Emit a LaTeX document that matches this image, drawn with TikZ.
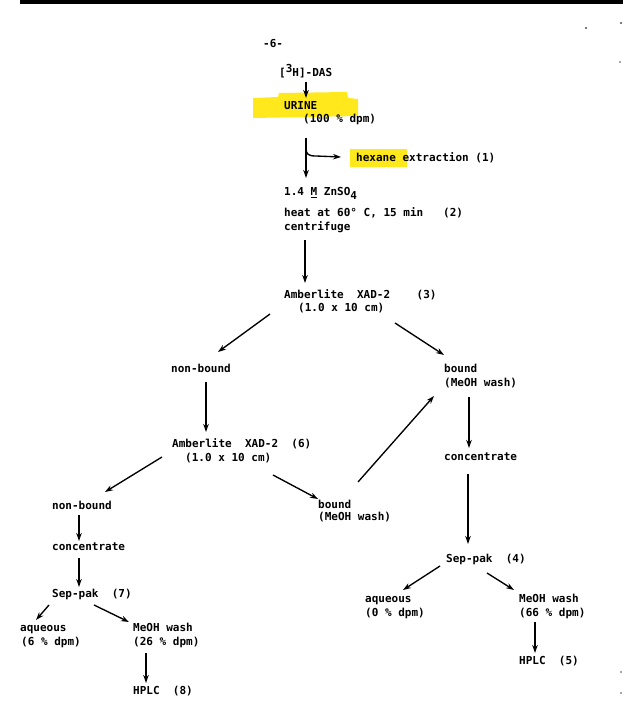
\documentclass[tikz,border=0pt]{standalone}
\usepackage{fontspec}
\setmonofont{DejaVu Sans Mono}
\usetikzlibrary{arrows.meta,calc}
\definecolor{hl}{RGB}{255,232,28}
\begin{document}
\begin{tikzpicture}[x=1pt,y=-1pt,
  txt/.style={anchor=base west,inner sep=0pt,font=\ttfamily\bfseries\fontsize{11}{14}\selectfont},
  arr/.style={line width=1.35pt,-{Stealth[length=8pt,width=5.5pt]}},
  speck/.style={fill=black!70}]
\useasboundingbox (0,0) rectangle (623,714);
% scan edge and specks
\fill[black] (20,0) rectangle (623,4);
\fill[speck] (586,28) circle (1.1);
\fill[speck] (621,23) circle (1.1);
\fill[speck] (620,62) circle (0.9);
\fill[speck] (621,672) circle (0.9);
\fill[speck] (621,693) circle (0.8);
% highlights
\fill[hl] (253,98) -- (278,97) -- (279,93) -- (347,92) -- (348,98) -- (358,99) -- (358,116) -- (253,118) -- cycle;
\fill[hl] (350,149) rectangle (407,167);
% text nodes
\node[txt] (page) at (263,48) {-6-};
\node[txt] (das) at (279,77) {[\raisebox{4pt}{3}H]-DAS};
\node[txt] (urine) at (284,110) {URINE};
\node[txt] (pct100) at (303,123) {(100 \% dpm)};
\node[txt] (hex) at (356,162) {hexane extraction (1)};
\node[txt] (zn) at (284,196) {1.4 \underline{M} ZnSO\raisebox{-4pt}{4}};
\node[txt] (heat) at (284,216) {heat at 60° C, 15 min\ \ \ (2)};
\node[txt] (cent) at (284,230) {centrifuge};
\node[txt] (amb3) at (284,298) {Amberlite\ \ XAD-2\ \ \ \ (3)};
\node[txt] (amb3b) at (298,311) {(1.0 x 10 cm)};
\node[txt] (nb1) at (171,372) {non-bound};
\node[txt] (b1) at (444,372) {bound};
\node[txt] (b1b) at (444,386) {(MeOH wash)};
\node[txt] (amb6) at (172,447) {Amberlite\ \ XAD-2\ \ (6)};
\node[txt] (amb6b) at (185,461) {(1.0 x 10 cm)};
\node[txt] (conc1) at (444,460) {concentrate};
\node[txt] (b2) at (318,508) {bound};
\node[txt] (b2b) at (318,520) {(MeOH wash)};
\node[txt] (nb2) at (52,509) {non-bound};
\node[txt] (conc2) at (52,550) {concentrate};
\node[txt] (sp7) at (52,597) {Sep-pak\ \ (7)};
\node[txt] (aq7) at (20,631) {aqueous};
\node[txt] (aq7b) at (21,645) {(6 \% dpm)};
\node[txt] (mw7) at (133,631) {MeOH wash};
\node[txt] (mw7b) at (133,645) {(26 \% dpm)};
\node[txt] (hplc8) at (133,694) {HPLC\ \ (8)};
\node[txt] (sp4) at (446,562) {Sep-pak\ \ (4)};
\node[txt] (aq4) at (365,602) {aqueous};
\node[txt] (aq4b) at (365,616) {(0 \% dpm)};
\node[txt] (mw4) at (519,602) {MeOH wash};
\node[txt] (mw4b) at (519,616) {(66 \% dpm)};
\node[txt] (hplc5) at (519,664) {HPLC\ \ (5)};
% connectors
\draw[arr] ($(das.base west)+(27,5)$) -- ($(urine.base west)+(22,-12)$);
\draw[arr] ($(pct100.base west)+(3,15)$) -- ($(zn.base west)+(22,-18)$);
\coordinate (br) at ($(pct100.base west)+(3,25)$);
\draw[arr] (br) .. controls ($(br)+(0,6)$) and ($(br)+(2,8)$) .. ($(br)+(10,8)$) -- ($(hex.base west)+(-15,-5)$);
\draw[arr] ($(cent.base west)+(21,10)$) -- ($(amb3.base west)+(21,-15)$);
\draw[arr] ($(amb3b.base west)+(-28,3)$) -- ($(nb1.base west)+(47,-20)$);
\draw[arr] ($(amb3b.base west)+(97,12)$) -- ($(b1.base west)+(0,-17)$);
\draw[arr] ($(nb1.base west)+(35,10)$) -- ($(amb6.base west)+(34,-15)$);
\draw[arr] ($(b1b.base west)+(25,11)$) -- ($(conc1.base west)+(25,-12)$);
\draw[arr] ($(b2.base west)+(40,-26)$) -- ($(b1b.base west)+(-10,10)$);
\draw[arr] ($(amb6b.base west)+(88,14)$) -- ($(b2.base west)+(0,-9)$);
\draw[arr] ($(amb6b.base west)+(-23,-4)$) -- ($(nb2.base west)+(53,-17)$);
\draw[arr] ($(nb2.base west)+(27,6)$) -- ($(conc2.base west)+(27,-9)$);
\draw[arr] ($(conc2.base west)+(27,8)$) -- ($(sp7.base west)+(27,-10)$);
\draw[arr] ($(sp7.base west)+(-3,8)$) -- ($(aq7.base west)+(16,-11)$);
\draw[arr] ($(sp7.base west)+(42,8)$) -- ($(mw7.base west)+(-4,-9)$);
\draw[arr] ($(mw7b.base west)+(13,8)$) -- ($(hplc8.base west)+(13,-11)$);
\draw[arr] ($(conc1.base west)+(24,14)$) -- ($(sp4.base west)+(22,-18)$);
\draw[arr] ($(sp4.base west)+(-6,4)$) -- ($(aq4.base west)+(38,-12)$);
\draw[arr] ($(sp4.base west)+(41,11)$) -- ($(mw4.base west)+(-5,-12)$);
\draw[arr] ($(mw4b.base west)+(16,6)$) -- ($(hplc5.base west)+(16,-11)$);
\end{tikzpicture}
\end{document}
